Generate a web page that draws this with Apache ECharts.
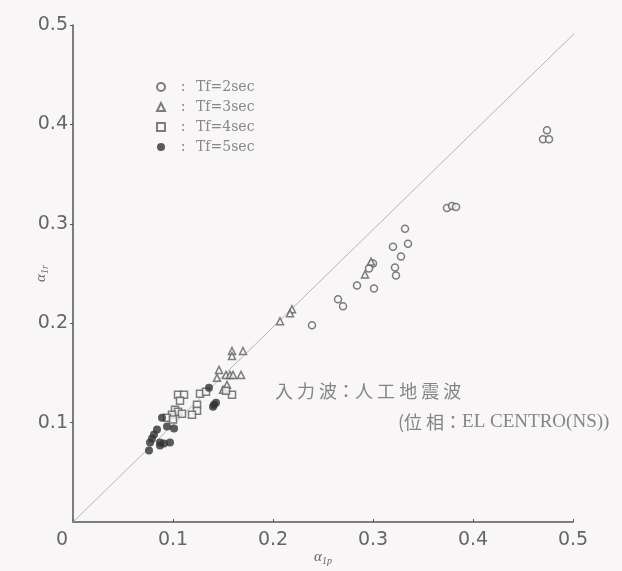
<!DOCTYPE html>
<html>
<head>
<meta charset="utf-8">
<script src="https://cdn.jsdelivr.net/npm/echarts@6/dist/echarts.min.js"></script>
<style>
  html, body { margin: 0; padding: 0; background: #f8f6f7; }
  #chart { width: 622px; height: 571px; }
</style>
</head>
<body>
<div id="chart"></div>
<script>
// α1p (x) versus α1r (y) for four excitation periods Tf
const seriesNames = ['Tf=2sec', 'Tf=3sec', 'Tf=4sec', 'Tf=5sec'];

const tf2 = [
  [0.470, 0.385], [0.476, 0.385], [0.474, 0.394],
  [0.374, 0.316], [0.379, 0.318], [0.383, 0.317],
  [0.332, 0.295], [0.335, 0.280], [0.320, 0.277], [0.322, 0.256],
  [0.323, 0.248], [0.328, 0.267],
  [0.300, 0.260], [0.296, 0.255],
  [0.284, 0.238], [0.301, 0.235],
  [0.265, 0.224], [0.270, 0.217],
  [0.239, 0.198]
];
const tf3 = [
  [0.292, 0.249], [0.298, 0.262],
  [0.219, 0.214], [0.217, 0.210], [0.207, 0.202],
  [0.159, 0.172], [0.170, 0.172], [0.159, 0.167],
  [0.146, 0.153], [0.144, 0.145], [0.153, 0.148], [0.157, 0.148],
  [0.160, 0.148], [0.168, 0.148], [0.154, 0.138], [0.150, 0.133]
];
const tf4 = [
  [0.105, 0.128], [0.111, 0.128], [0.107, 0.122],
  [0.127, 0.129], [0.133, 0.131], [0.159, 0.128], [0.153, 0.132],
  [0.124, 0.118], [0.124, 0.112], [0.119, 0.108],
  [0.102, 0.113], [0.105, 0.111], [0.109, 0.109],
  [0.099, 0.108], [0.094, 0.105], [0.100, 0.103]
];
const tf5 = [
  [0.136, 0.135], [0.141, 0.118], [0.143, 0.120], [0.140, 0.116],
  [0.089, 0.105], [0.094, 0.096], [0.101, 0.094],
  [0.084, 0.093], [0.081, 0.088], [0.079, 0.084], [0.077, 0.080],
  [0.087, 0.080], [0.091, 0.079], [0.097, 0.080], [0.087, 0.077],
  [0.076, 0.072]
];
// 1:1 reference line
const refLine = [[0, 0], [0.51, 0.5]];

const xTicks = [0, 0.1, 0.2, 0.3, 0.4, 0.5];
const yTicks = [0, 0.1, 0.2, 0.3, 0.4, 0.5];

const bg = '#f8f6f7';
const axisGrey = '#555';
const labelGrey = '#666';
const markGrey = '#5e5e5e';

function tickText(ticks, v) {
  const t = ticks.find(k => Math.abs(k - v) < 1e-9);
  return t === 0 ? '0' : t.toFixed(1);
}

const chart = echarts.init(document.getElementById('chart'), null, { renderer: 'canvas' });

const hollow = (sym, size) => ({
  type: 'scatter',
  symbol: sym,
  symbolSize: size,
  itemStyle: { color: bg, borderColor: markGrey, borderWidth: 1.5 },
  z: 5
});

const subRich = {
  a: { fontFamily: 'Liberation Serif', fontStyle: 'italic', fontSize: 15, color: labelGrey },
  s: { fontFamily: 'Liberation Serif', fontStyle: 'italic', fontSize: 10, color: labelGrey, padding: [7, 0, 0, 0] }
};

chart.setOption({
  backgroundColor: bg,
  animation: false,
  grid: { left: 73, right: 49, top: 25, bottom: 46 },
  xAxis: {
    type: 'value', min: 0, max: 0.5, interval: 0.1,
    splitLine: { show: false },
    axisLine: { lineStyle: { color: axisGrey, width: 1.5 } },
    axisTick: { inside: true, length: 3, lineStyle: { color: axisGrey } },
    axisLabel: {
      color: labelGrey, fontSize: 19, fontFamily: 'DejaVu Sans', margin: 9,
      formatter: v => v === 0 ? '{z|0}' : tickText(xTicks, v),
      rich: { z: { color: labelGrey, fontSize: 19, fontFamily: 'DejaVu Sans', padding: [0, 22, 0, 0] } }
    },
    name: '{a|α}{s|1p}',
    nameLocation: 'middle', nameGap: 27, nameMoveOverlap: false,
    nameTextStyle: { rich: subRich }
  },
  yAxis: {
    type: 'value', min: 0, max: 0.5, interval: 0.1,
    splitLine: { show: false },
    axisLine: { lineStyle: { color: axisGrey, width: 1.5 } },
    axisTick: { inside: false, length: 3, lineStyle: { color: axisGrey } },
    axisLabel: {
      color: labelGrey, fontSize: 19, fontFamily: 'DejaVu Sans', margin: 5,
      showMinLabel: false,
      formatter: v => tickText(yTicks, v)
    },
    name: '{a|α}{s|1r}',
    nameLocation: 'middle', nameGap: 23, nameRotate: 90, nameMoveOverlap: false,
    nameTextStyle: { rich: subRich }
  },
  legend: {
    orient: 'vertical', left: 151, top: 74, itemGap: 4,
    itemWidth: 8, itemHeight: 8,
    data: seriesNames,
    formatter: name => '{c|:}{t|' + name + '}',
    textStyle: {
      color: '#888', lineHeight: 16,
      rich: {
        c: { width: 26, align: 'center', color: '#888', fontFamily: 'DejaVu Serif', fontSize: 14 },
        t: { color: '#888', fontFamily: 'DejaVu Serif', fontSize: 14 }
      }
    }
  },
  graphic: [
    {
      type: 'text', left: 275, top: 382,
      style: { text: '入 力 波：人 工 地 震 波', font: '18px "Noto Sans CJK JP"', fill: '#858585' }
    },
    {
      type: 'text', left: 398, top: 413,
      style: {
        text: '(位 相：{e|EL CENTRO(NS))}',
        font: '18px "Noto Sans CJK JP"', fill: '#858585',
        rich: { e: { fontFamily: 'Liberation Serif', fontSize: 19, fill: '#858585' } }
      }
    }
  ],
  series: [
    {
      type: 'line', data: refLine, symbol: 'none', clip: false, silent: true,
      lineStyle: { color: '#b5b5b5', width: 1 }, z: 1
    },
    Object.assign(hollow('circle', 7), { name: seriesNames[0], data: tf2 }),
    Object.assign(hollow('triangle', 7), { name: seriesNames[1], data: tf3 }),
    Object.assign(hollow('rect', 7), { name: seriesNames[2], data: tf4 }),
    {
      name: seriesNames[3], type: 'scatter', symbol: 'circle', symbolSize: 8,
      itemStyle: { color: '#333' }, data: tf5, z: 5
    }
  ]
});
</script>
</body>
</html>
